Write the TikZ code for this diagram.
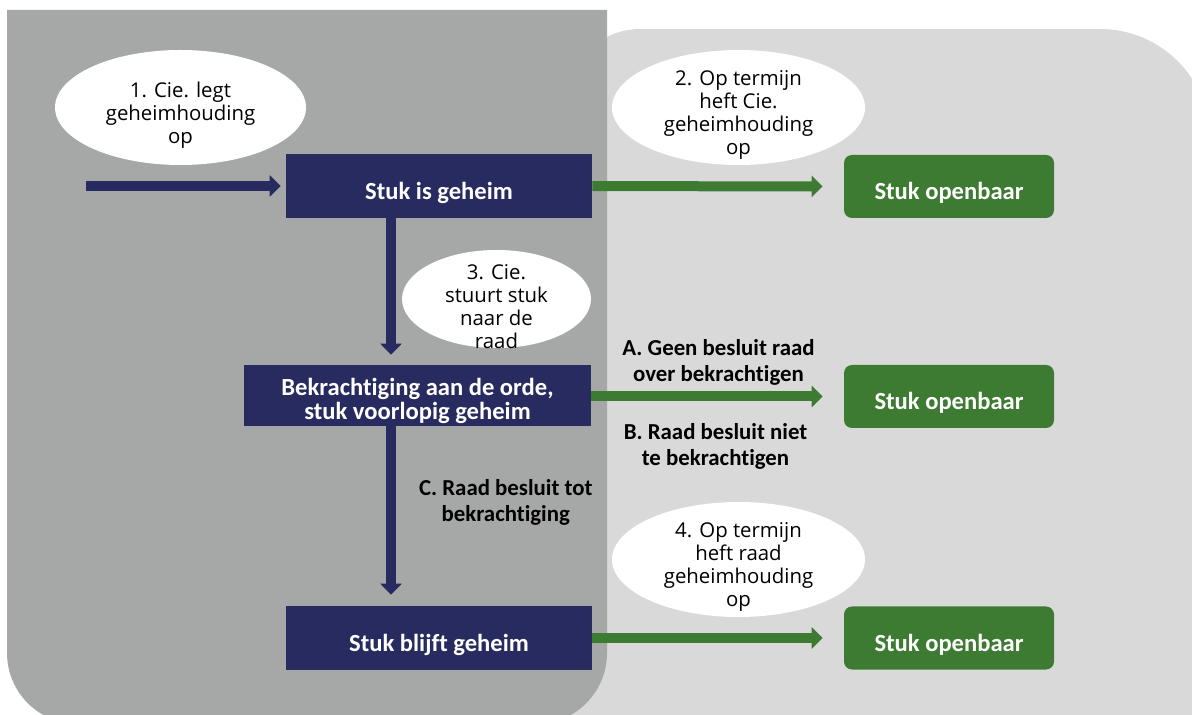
\documentclass[tikz,border=0pt]{standalone}
\usepackage{fontspec}
\setmainfont{Carlito}[Ligatures={NoCommon}]
\newfontfamily\bubblefont{Open Sans}
\usetikzlibrary{arrows.meta, shapes.geometric}

\definecolor{darkpanel}{HTML}{A6A8A7}
\definecolor{lightpanel}{HTML}{D9D9D9}
\definecolor{navy}{HTML}{282B60}
\definecolor{leafgreen}{HTML}{3D7A32}

\newcommand{\stukfont}{\fontsize{14}{13.5}\selectfont\bfseries}
\newcommand{\choicefont}{\fontsize{13}{14.8}\selectfont\bfseries}
\newcommand{\bellfont}{\bubblefont\fontsize{11.6}{13.1}\selectfont}

\begin{document}
\begin{tikzpicture}[
  secret/.style={fill=navy, text=white, font=\stukfont, align=center,
    inner sep=0pt, text height=18pt, text depth=3pt},
  public/.style={fill=leafgreen, text=white, font=\stukfont,
    rounded corners=0.16cm, minimum width=4.2cm, minimum height=1.26cm,
    inner sep=0pt, text height=18pt, text depth=3pt},
  bubble/.style={ellipse, fill=white, inner sep=0pt},
  bubbletext/.style={font=\bellfont, align=center, yshift=-0.15cm},
  navyarrow/.style={draw=navy, line width=0.2cm,
    -{Triangle[length=0.22cm, width=0.42cm]}},
  greenarrow/.style={draw=leafgreen, line width=0.2cm,
    -{Triangle[length=0.22cm, width=0.42cm]}, shorten >=0.42cm},
  choice/.style={font=\choicefont, align=center, inner sep=0pt}
]
  \useasboundingbox (0,0) rectangle (23.84,-14.3);

  \coordinate (in) at (1.72,-3.72); % start of incoming arrow
  \coordinate (spine) at (7.82,0);  % x of the vertical arrows

  % panels
  \fill[lightpanel] (11.36,-15) -- (11.36,-2.02) arc (180:90:1.44)
    -- (22.0,-0.58) arc (90:0:2.2) -- (24.2,-15) -- cycle;
  \fill[darkpanel] (0.14,-0.2) -- (12.14,-0.2) -- (12.14,-13.06)
    arc (0:-90:1.42) -- (1.56,-14.48) arc (270:180:1.42) -- cycle;

  % boxes
  \node[secret, minimum width=6.12cm, minimum height=1.28cm] (geheim)
    at (8.78,-3.72) {Stuk is geheim};
  \node[secret, minimum width=6.94cm, minimum height=1.22cm,
    text height=29pt, text depth=2pt] (orde)
    at (8.35,-7.91) {Bekrachtiging aan de orde,\\stuk voorlopig geheim};
  \node[secret, minimum width=6.12cm, minimum height=1.28cm] (blijft)
    at (8.78,-12.76) {Stuk blijft geheim};
  \node[public] (open1) at (18.98,-3.73) {Stuk openbaar};
  \node[public] (open2) at (18.98,-7.93) {Stuk openbaar};
  \node[public] (open3) at (18.98,-12.76) {Stuk openbaar};

  % bubbles
  \node[bubble, minimum width=5.02cm, minimum height=2.3cm,
    label={[bubbletext]center:{1. Cie. legt\\geheimhouding\\op}}]
    (legt) at (3.61,-2.15) {};
  \node[bubble, minimum width=5.06cm, minimum height=2.3cm,
    label={[bubbletext]center:{2. Op termijn\\heft Cie.\\geheimhouding\\op}}]
    (heftcie) at (14.77,-2.15) {};
  \node[bubble, minimum width=3.78cm, minimum height=1.96cm,
    label={[bubbletext]center:{3. Cie.\\stuurt stuk\\naar de\\raad}}]
    (stuurt) at (9.93,-5.98) {};
  \node[bubble, minimum width=5.06cm, minimum height=2.3cm,
    label={[bubbletext]center:{4. Op termijn\\heft raad\\geheimhouding\\op}}]
    (heftraad) at (14.77,-11.19) {};

  % arrows
  \draw[navyarrow, shorten >=0.1cm] (in) -- (geheim);
  \draw[navyarrow, shorten >=0.2cm] (geheim.south -| spine) -- (orde.north -| spine);
  \draw[navyarrow, shorten >=0.22cm] (orde.south -| spine) --
    node[choice, right=0.46cm, yshift=0.28cm] {C. Raad besluit tot\\bekrachtiging}
    (blijft.north -| spine);
  \draw[greenarrow] (geheim) -- (open1);
  \draw[greenarrow] (orde.east |- open2) --
    node[choice, above=0.12cm, xshift=0.02cm] {A. Geen besluit raad\\over bekrachtigen}
    node[choice, below=0.44cm, xshift=-0.04cm] {B. Raad besluit niet\\te bekrachtigen}
    (open2);
  \draw[greenarrow] (blijft) -- (open3);
\end{tikzpicture}
\end{document}
